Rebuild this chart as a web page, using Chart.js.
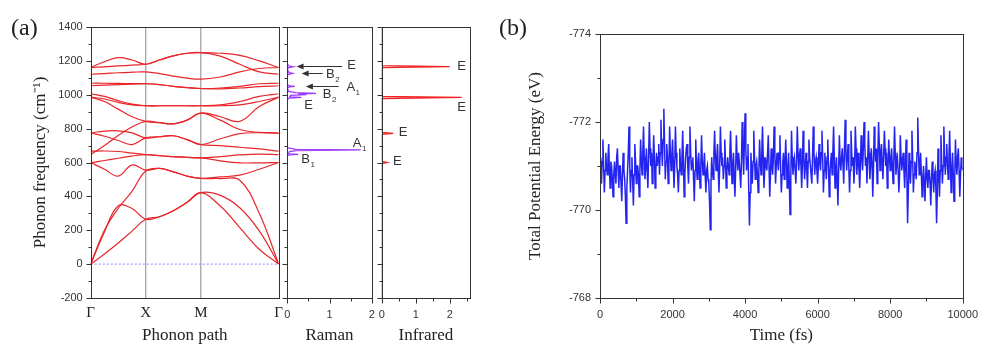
<!DOCTYPE html>
<html>
<head>
<meta charset="utf-8">
<script src="https://cdn.jsdelivr.net/npm/chart.js@4.4.0/dist/chart.umd.min.js"></script>
<style>
  html, body { margin: 0; padding: 0; background: #fff; }
  #wrap { position: relative; width: 988px; height: 346px; overflow: hidden; }
  #wrap canvas { position: absolute; left: 0; top: 0; }
  .tag { position: absolute; font-family: 'Liberation Serif', 'Times New Roman', serif; font-size: 24px; color: #222; line-height: 28px; }
</style>
</head>
<body>
<div id="wrap">
  <canvas id="bandChart" width="988" height="346"></canvas>
  <canvas id="ramanChart" width="988" height="346"></canvas>
  <canvas id="irChart" width="988" height="346"></canvas>
  <canvas id="mdChart" width="988" height="346"></canvas>
  <div class="tag" style="left:11px;top:13px">(a)</div>
  <div class="tag" style="left:499px;top:13px">(b)</div>
</div>
<script>
// ---- (a) phonon bands: path Γ-X-M-Γ, frequency in cm-1
const kPoints = [0, 0.25, 0.5, 0.75, 1, 1.25, 1.5, 1.75, 2, 2.354, 2.707, 3.061, 3.414];
const kLabelPos = [0, 1, 2, 3.414];
const kLabels = ['Γ', 'X', 'M', 'Γ'];

const band01 = [0, 60, 125, 195, 265, 280, 315, 365, 422, 343, 216, 88, 0];
const band02 = [0, 190, 345, 328, 265, 280, 315, 365, 422, 406, 333, 196, 0];
const band03 = [0, 200, 330, 430, 550, 565, 545, 520, 506, 505, 495, 300, 0];
const band04 = [600, 560, 520, 585, 555, 565, 545, 520, 506, 515, 525, 560, 600];
const band05 = [598, 612, 625, 638, 647, 640, 635, 630, 627, 610, 598, 598, 600];
const band06 = [667, 668, 665, 655, 647, 640, 635, 630, 627, 635, 645, 650, 647];
const band07 = [774, 755, 730, 706, 745, 752, 758, 735, 706, 700, 690, 680, 667];
const band08 = [774, 785, 787, 775, 745, 752, 758, 735, 706, 740, 770, 776, 774];
const band09 = [647, 700, 760, 810, 843, 835, 828, 850, 892, 850, 795, 778, 774];
const band10 = [986, 960, 915, 870, 843, 835, 828, 850, 892, 870, 843, 930, 986];
const band11 = [986, 975, 955, 940, 935, 935, 935, 935, 935, 935, 940, 960, 986];
const band12 = [1006, 990, 965, 945, 935, 935, 935, 935, 935, 940, 960, 990, 1006];
const band13 = [1053, 1057, 1060, 1063, 1065, 1060, 1050, 1042, 1037, 1035, 1040, 1048, 1053];
const band14 = [1068, 1068, 1067, 1066, 1065, 1060, 1050, 1042, 1037, 1040, 1050, 1065, 1068];
const band15 = [1121, 1125, 1130, 1133, 1135, 1125, 1110, 1098, 1092, 1105, 1135, 1155, 1161];
const band16 = [1161, 1165, 1170, 1175, 1180, 1205, 1230, 1245, 1249, 1228, 1180, 1135, 1121];
const band17 = [1161, 1195, 1219, 1205, 1180, 1205, 1230, 1245, 1249, 1245, 1232, 1200, 1161];
const bands = [band01, band02, band03, band04, band05, band06, band07, band08, band09,
  band10, band11, band12, band13, band14, band15, band16, band17];

// ---- Raman spectrum (intensity vs frequency)
const ramanFreq = [-200, 636, 645, 648, 651, 664, 670, 674, 678, 688, 970, 980, 984, 988, 996, 1001,
  1004, 1008, 1012, 1020, 1040, 1046, 1049, 1052, 1060, 1115, 1122, 1126, 1130, 1150, 1160, 1165, 1169, 1180, 1400];
const ramanInt = [0, 0, 0.03, 0.26, 0.03, 0.05, 0.22, 1.74, 0.2, 0, 0, 0.04, 0.33, 0.06, 0.08, 0.45,
  0.25, 0.68, 0.2, 0.03, 0, 0.05, 0.18, 0.05, 0, 0, 0.05, 0.12, 0.04, 0, 0.03, 0.14, 0.05, 0, 0];

// ---- Infrared spectrum
const irFreq = [-200, 594, 600, 606, 766, 772, 778, 978, 984, 990, 1160, 1166, 1172, 1400];
const irInt = [0, 0, 0.15, 0, 0, 0.34, 0, 0, 2.35, 0, 0, 2.0, 0, 0];

// ---- (b) total potential energy (eV), one value every 20 fs from 0 to 10000 fs
const mdStep = 20;
const mdEnergy = [
  -771.2, -770.9, -770.6, -771.1, -771.6, -771.0, -770.4, -770.9, -771.3, -771.0, -770.8, -771.2, -771.5, -770.9, -770.5, -771.1, -771.0, -770.7, -770.3, -770.8,
  -771.1, -770.8, -770.6, -771.2, -771.4, -770.9, -770.5, -771.0, -771.0, -770.6, -770.2, -770.8, -771.3, -770.9, -770.7, -770.3, -769.7, -770.5, -770.9, -771.3,
  -771.9, -771.0, -770.4, -770.9, -771.2, -770.7, -770.1, -770.8, -771.5, -771.1, -770.6, -771.0, -771.0, -770.8, -770.3, -770.9, -771.6, -771.1, -770.8, -771.3,
  -771.9, -771.2, -770.7, -771.0, -771.4, -770.9, -770.5, -771.2, -772.0, -771.4, -771.0, -771.3, -770.6, -771.0, -771.7, -771.2, -770.5, -770.9, -771.3, -771.0,
  -771.2, -771.5, -770.8, -771.3, -772.05, -771.4, -771.0, -771.6, -772.3, -771.5, -770.7, -771.1, -771.5, -771.2, -770.6, -771.0, -771.9, -771.3, -770.9, -771.2,
  -771.6, -771.1, -770.5, -771.0, -771.9, -771.3, -771.0, -770.8, -770.4, -770.9, -771.4, -771.0, -770.8, -771.2, -771.8, -771.1, -770.3, -770.8, -771.2, -771.4,
  -771.5, -771.0, -770.6, -771.2, -771.9, -771.3, -770.9, -771.1, -771.2, -770.7, -770.2, -770.9, -771.6, -771.0, -770.7, -771.1, -771.3, -770.9, -770.5, -771.0,
  -771.7, -771.1, -770.8, -771.0, -771.3, -770.8, -770.4, -770.9, -771.0, -770.7, -770.6, -770.2, -769.55, -770.6, -771.2, -770.9, -770.7, -771.3, -771.8, -771.2,
  -770.9, -771.2, -771.5, -770.9, -770.4, -771.0, -771.9, -771.3, -771.0, -771.2, -770.7, -771.0, -771.6, -771.1, -770.5, -770.9, -771.2, -771.0, -770.8, -771.3,
  -771.8, -771.2, -770.6, -771.0, -771.3, -770.8, -770.3, -770.9, -771.7, -771.2, -770.9, -771.3, -771.1, -770.8, -770.5, -771.1, -772.0, -771.4, -770.8, -771.5,
  -772.2, -771.4, -770.9, -771.2, -771.5, -770.5, -769.65, -770.4, -771.3, -770.9, -770.6, -771.1, -771.8, -771.2, -770.7, -771.0, -771.1, -770.8, -770.4, -770.9,
  -771.6, -771.1, -770.8, -771.3, -771.9, -771.2, -770.5, -770.9, -771.2, -771.0, -770.9, -771.3, -771.7, -771.0, -770.3, -770.8, -771.4, -771.0, -770.8, -771.2,
  -771.9, -771.3, -770.6, -771.0, -771.3, -771.1, -770.9, -771.3, -771.7, -771.0, -770.4, -770.8, -771.1, -771.3, -770.7, -771.0, -771.6, -771.1, -770.5, -770.9,
  -771.3, -770.6, -769.9, -770.7, -771.8, -771.2, -770.8, -771.1, -771.2, -770.9, -770.6, -771.1, -771.9, -771.3, -770.9, -771.2, -771.4, -771.0, -770.5, -771.0,
  -771.8, -771.2, -770.7, -771.0, -771.3, -770.9, -770.5, -771.1, -771.6, -771.2, -771.0, -770.8, -770.6, -771.2, -771.9, -771.3, -770.8, -771.1, -771.2, -770.9,
  -770.6, -771.0, -771.5, -771.1, -770.9, -771.3, -771.8, -771.2, -770.4, -770.9, -771.3, -771.0, -770.7, -771.2, -771.6, -771.0, -770.3, -770.8, -771.1, -771.3,
  -770.8, -771.3, -771.9, -771.2, -770.5, -770.9, -771.2, -770.7, -770.1, -770.9, -771.7, -771.1, -770.9, -771.2, -771.4, -771.0, -770.6, -771.4, -772.05, -771.3,
  -770.9, -771.2, -771.5, -771.0, -770.4, -770.9, -771.8, -771.3, -771.0, -771.2, -770.6, -771.0, -771.9, -771.4, -770.8, -771.1, -771.3, -770.9, -770.5, -771.0,
  -771.7, -771.2, -770.9, -771.4, -772.0, -771.5, -771.0, -771.2, -770.6, -771.1, -771.8, -771.3, -770.7, -771.0, -771.4, -771.1, -770.3, -770.9, -771.9, -771.4,
  -771.1, -771.4, -770.6, -771.2, -772.0, -771.5, -770.9, -771.3, -771.5, -771.1, -770.7, -771.2, -771.8, -771.4, -771.0, -771.3, -770.5, -770.9, -771.6, -771.2,
  -770.9, -771.2, -771.4, -771.0, -770.6, -771.1, -771.9, -771.3, -770.8, -771.1, -771.2, -770.9, -770.4, -770.8, -771.7, -771.2, -770.9, -771.1, -771.3, -770.9,
  -770.5, -771.0, -771.6, -770.8, -769.7, -770.4, -771.3, -770.9, -770.6, -771.1, -771.8, -771.2, -770.4, -770.8, -771.1, -770.9, -770.7, -771.3, -772.1, -771.4,
  -770.8, -771.0, -771.3, -770.8, -770.3, -770.7, -771.0, -770.6, -770.2, -770.8, -771.2, -770.7, -770.5, -770.9, -770.9, -770.6, -770.1, -770.7, -771.1, -770.8,
  -770.4, -770.8, -770.9, -770.5, -769.7, -770.4, -771.4, -770.9, -770.3, -770.9, -771.7, -771.1, -770.6, -771.0, -771.9, -771.3, -770.8, -771.2, -771.5, -771.0,
  -770.7, -771.2, -771.8, -771.1, -770.4, -770.9, -771.3, -770.8, -770.2, -770.7, -771.6, -771.1, -770.8, -771.2, -771.4, -770.9, -770.3, -770.8, -771.2, -771.0,
  -770.9
];

Chart.defaults.animation = false;
Chart.defaults.plugins.legend.display = false;
Chart.defaults.plugins.tooltip.enabled = false;

const tickFont = { family: "'Liberation Sans', Arial, sans-serif", size: 11 };
const titleFont = { family: "'Liberation Serif', 'Times New Roman', serif", size: 17 };

function fixedTicks(vals) {
  return s => { s.ticks = vals.map(v => ({ value: v })); };
}

// box frame plus outward major / minor tick marks
function frameTicks(xMajor, xMinor, yMajor, yMinor) {
  return {
    id: 'frameTicks',
    afterDatasetsDraw(chart) {
      const { ctx, chartArea: a, scales: { x, y } } = chart;
      const L = Math.round(a.left) + 0.5, R = Math.round(a.right) + 0.5;
      const T = Math.round(a.top) + 0.5, B = Math.round(a.bottom) + 0.5;
      ctx.save();
      ctx.strokeStyle = '#333';
      ctx.lineWidth = 1;
      ctx.strokeRect(L, T, R - L, B - T);
      ctx.beginPath();
      xMajor.forEach(v => { const p = Math.round(x.getPixelForValue(v)) + 0.5; ctx.moveTo(p, B); ctx.lineTo(p, B + 5); });
      xMinor.forEach(v => { const p = Math.round(x.getPixelForValue(v)) + 0.5; ctx.moveTo(p, B); ctx.lineTo(p, B + 3); });
      yMajor.forEach(v => { const p = Math.round(y.getPixelForValue(v)) + 0.5; ctx.moveTo(L - 5, p); ctx.lineTo(L, p); });
      yMinor.forEach(v => { const p = Math.round(y.getPixelForValue(v)) + 0.5; ctx.moveTo(L - 3, p); ctx.lineTo(L, p); });
      ctx.stroke();
      ctx.restore();
    }
  };
}

// text labels (with optional subscript) and arrows on the spectra panels
function notes(list) {
  return {
    id: 'notes',
    afterDatasetsDraw(chart) {
      const { ctx, scales: { x, y } } = chart;
      ctx.save();
      ctx.fillStyle = '#333';
      ctx.strokeStyle = '#333';
      ctx.lineWidth = 1;
      list.forEach(n => {
        const py = y.getPixelForValue(n.f);
        if (n.from !== undefined) {
          const x1 = x.getPixelForValue(n.from), x2 = x.getPixelForValue(n.to);
          const ay = Math.round(y.getPixelForValue(n.af)) + 0.5;
          ctx.beginPath();
          ctx.moveTo(x1, ay); ctx.lineTo(x2 + 5, ay); ctx.stroke();
          ctx.beginPath();
          ctx.moveTo(x2, ay); ctx.lineTo(x2 + 7, ay - 3); ctx.lineTo(x2 + 7, ay + 3); ctx.closePath(); ctx.fill();
        }
        const px = x.getPixelForValue(n.x);
        ctx.font = "13px 'Liberation Sans', Arial, sans-serif";
        ctx.textAlign = 'left';
        ctx.textBaseline = 'middle';
        ctx.fillText(n.t, px, py);
        if (n.s) {
          const w = ctx.measureText(n.t).width;
          ctx.font = "8px 'Liberation Sans', Arial, sans-serif";
          ctx.fillText(n.s, px + w + 0.5, py + 5);
        }
      });
      ctx.restore();
    }
  };
}

const yFreqMajor = [-200, 0, 200, 400, 600, 800, 1000, 1200, 1400];
const yFreqMinor = [-100, 100, 300, 500, 700, 900, 1100, 1300];

// ---------- (a) band structure
const bandSets = bands.map(b => ({
  data: b.map((f, i) => ({ x: kPoints[i], y: f })),
  borderColor: '#e8262b', borderWidth: 1.2, pointRadius: 0, tension: 0.4, showLine: true, order: 0
}));
bandSets.push({
  data: [{ x: 0, y: 0 }, { x: 3.414, y: 0 }],
  borderColor: '#7f8cff', borderWidth: 1, borderDash: [2, 2], pointRadius: 0, showLine: true, order: 1
});
[1, 2].forEach(k => bandSets.push({
  data: [{ x: k, y: -200 }, { x: k, y: 1400 }],
  borderColor: '#8a8a8a', borderWidth: 1, pointRadius: 0, showLine: true, order: 2
}));

new Chart(document.getElementById('bandChart'), {
  type: 'scatter',
  data: { datasets: bandSets },
  options: {
    responsive: false,
    layout: { padding: { left: 30, right: 709.3, top: 27, bottom: 0 } },
    scales: {
      x: {
        type: 'linear', min: 0, max: 3.414,
        grid: { display: false, drawTicks: false }, border: { display: false },
        afterBuildTicks: fixedTicks(kLabelPos),
        afterFit: s => { s.height = 48; },
        ticks: { padding: 6, color: '#222', font: { family: titleFont.family, size: 15 }, callback: (v, i) => kLabels[i] },
        title: { display: true, text: 'Phonon path', color: '#222', font: titleFont, padding: 0 }
      },
      y: {
        min: -200, max: 1400,
        grid: { display: false, drawTicks: false }, border: { display: false },
        afterBuildTicks: fixedTicks(yFreqMajor),
        afterFit: s => { s.width = 60.7; },
        ticks: { padding: 8, color: '#333', font: tickFont, callback: v => String(v) },
        title: { display: true, text: 'Phonon frequency (cm⁻¹)', color: '#222', font: titleFont, padding: 0 }
      }
    }
  },
  plugins: [frameTicks([], [], yFreqMajor, yFreqMinor)]
});

// ---------- Raman
const ramanNotes = [
  { t: 'E', x: 1.42, f: 1172, from: 1.30, to: 0.22, af: 1167 },
  { t: 'B', s: '2', x: 0.92, f: 1120, from: 0.84, to: 0.34, af: 1127 },
  { t: 'A', s: '1', x: 1.40, f: 1044, from: 1.22, to: 0.44, af: 1049 },
  { t: 'B', s: '2', x: 0.84, f: 1000 },
  { t: 'E', x: 0.40, f: 935 },
  { t: 'A', s: '1', x: 1.55, f: 712 },
  { t: 'B', s: '1', x: 0.33, f: 618 }
];

new Chart(document.getElementById('ramanChart'), {
  type: 'scatter',
  data: {
    datasets: [{
      data: ramanFreq.map((f, i) => ({ x: ramanInt[i], y: f })),
      borderColor: '#9b3cff', borderWidth: 1.3, pointRadius: 0, showLine: true
    }]
  },
  options: {
    responsive: false,
    layout: { padding: { left: 287.3, right: 616.3, top: 27, bottom: 0 } },
    scales: {
      x: {
        type: 'linear', min: 0, max: 2,
        grid: { display: false, drawTicks: false }, border: { display: false },
        afterBuildTicks: fixedTicks([0, 1, 2]),
        afterFit: s => { s.height = 48; },
        ticks: { padding: 10, color: '#333', font: tickFont, callback: v => String(v) },
        title: { display: true, text: 'Raman', color: '#222', font: titleFont, padding: 0 }
      },
      y: {
        min: -200, max: 1400,
        grid: { display: false, drawTicks: false }, border: { display: false },
        afterFit: s => { s.width = 0; },
        ticks: { display: false }
      }
    }
  },
  plugins: [frameTicks([0, 1, 2], [0.5, 1.5], yFreqMajor, yFreqMinor), notes(ramanNotes)]
});

// ---------- Infrared
const irNotes = [
  { t: 'E', x: 2.22, f: 1167 },
  { t: 'E', x: 2.22, f: 928 },
  { t: 'E', x: 0.5, f: 775 },
  { t: 'E', x: 0.33, f: 604 }
];

new Chart(document.getElementById('irChart'), {
  type: 'scatter',
  data: {
    datasets: [{
      data: irFreq.map((f, i) => ({ x: irInt[i], y: f })),
      borderColor: '#ee2424', borderWidth: 1.3, pointRadius: 0, showLine: true
    }]
  },
  options: {
    responsive: false,
    layout: { padding: { left: 381.7, right: 517.9, top: 27, bottom: 0 } },
    scales: {
      x: {
        type: 'linear', min: 0, max: 2.6,
        grid: { display: false, drawTicks: false }, border: { display: false },
        afterBuildTicks: fixedTicks([0, 1, 2]),
        afterFit: s => { s.height = 48; },
        ticks: { padding: 10, color: '#333', font: tickFont, callback: v => String(v) },
        title: { display: true, text: 'Infrared', color: '#222', font: titleFont, padding: 0 }
      },
      y: {
        min: -200, max: 1400,
        grid: { display: false, drawTicks: false }, border: { display: false },
        afterFit: s => { s.width = 0; },
        ticks: { display: false }
      }
    }
  },
  plugins: [frameTicks([0, 1, 2], [0.5, 1.5, 2.5], yFreqMajor, yFreqMinor), notes(irNotes)]
});

// ---------- (b) molecular dynamics energy
new Chart(document.getElementById('mdChart'), {
  type: 'scatter',
  data: {
    datasets: [{
      data: mdEnergy.map((e, i) => ({ x: i * mdStep, y: e })),
      borderColor: '#2424f0', borderWidth: 1.5, pointRadius: 0, showLine: true
    }]
  },
  options: {
    responsive: false,
    layout: { padding: { left: 525, right: 18, top: 34, bottom: 0 } },
    scales: {
      x: {
        type: 'linear', min: 0, max: 10000,
        grid: { display: false, drawTicks: false }, border: { display: false },
        afterBuildTicks: fixedTicks([0, 2000, 4000, 6000, 8000, 10000]),
        afterFit: s => { s.height = 48; },
        ticks: { padding: 10, color: '#333', font: tickFont, callback: v => String(v) },
        title: { display: true, text: 'Time (fs)', color: '#222', font: titleFont, padding: 0 }
      },
      y: {
        min: -774, max: -768, reverse: true,
        grid: { display: false, drawTicks: false }, border: { display: false },
        afterBuildTicks: fixedTicks([-774, -772, -770, -768]),
        afterFit: s => { s.width = 75; },
        ticks: { padding: 9, color: '#333', font: tickFont, callback: v => String(v) },
        title: { display: true, text: 'Total Potential Energy (eV)', color: '#222', font: titleFont, padding: 0 }
      }
    }
  },
  plugins: [frameTicks([0, 2000, 4000, 6000, 8000, 10000], [1000, 3000, 5000, 7000, 9000],
    [-774, -772, -770, -768], [-773, -771, -769])]
});
</script>
</body>
</html>
